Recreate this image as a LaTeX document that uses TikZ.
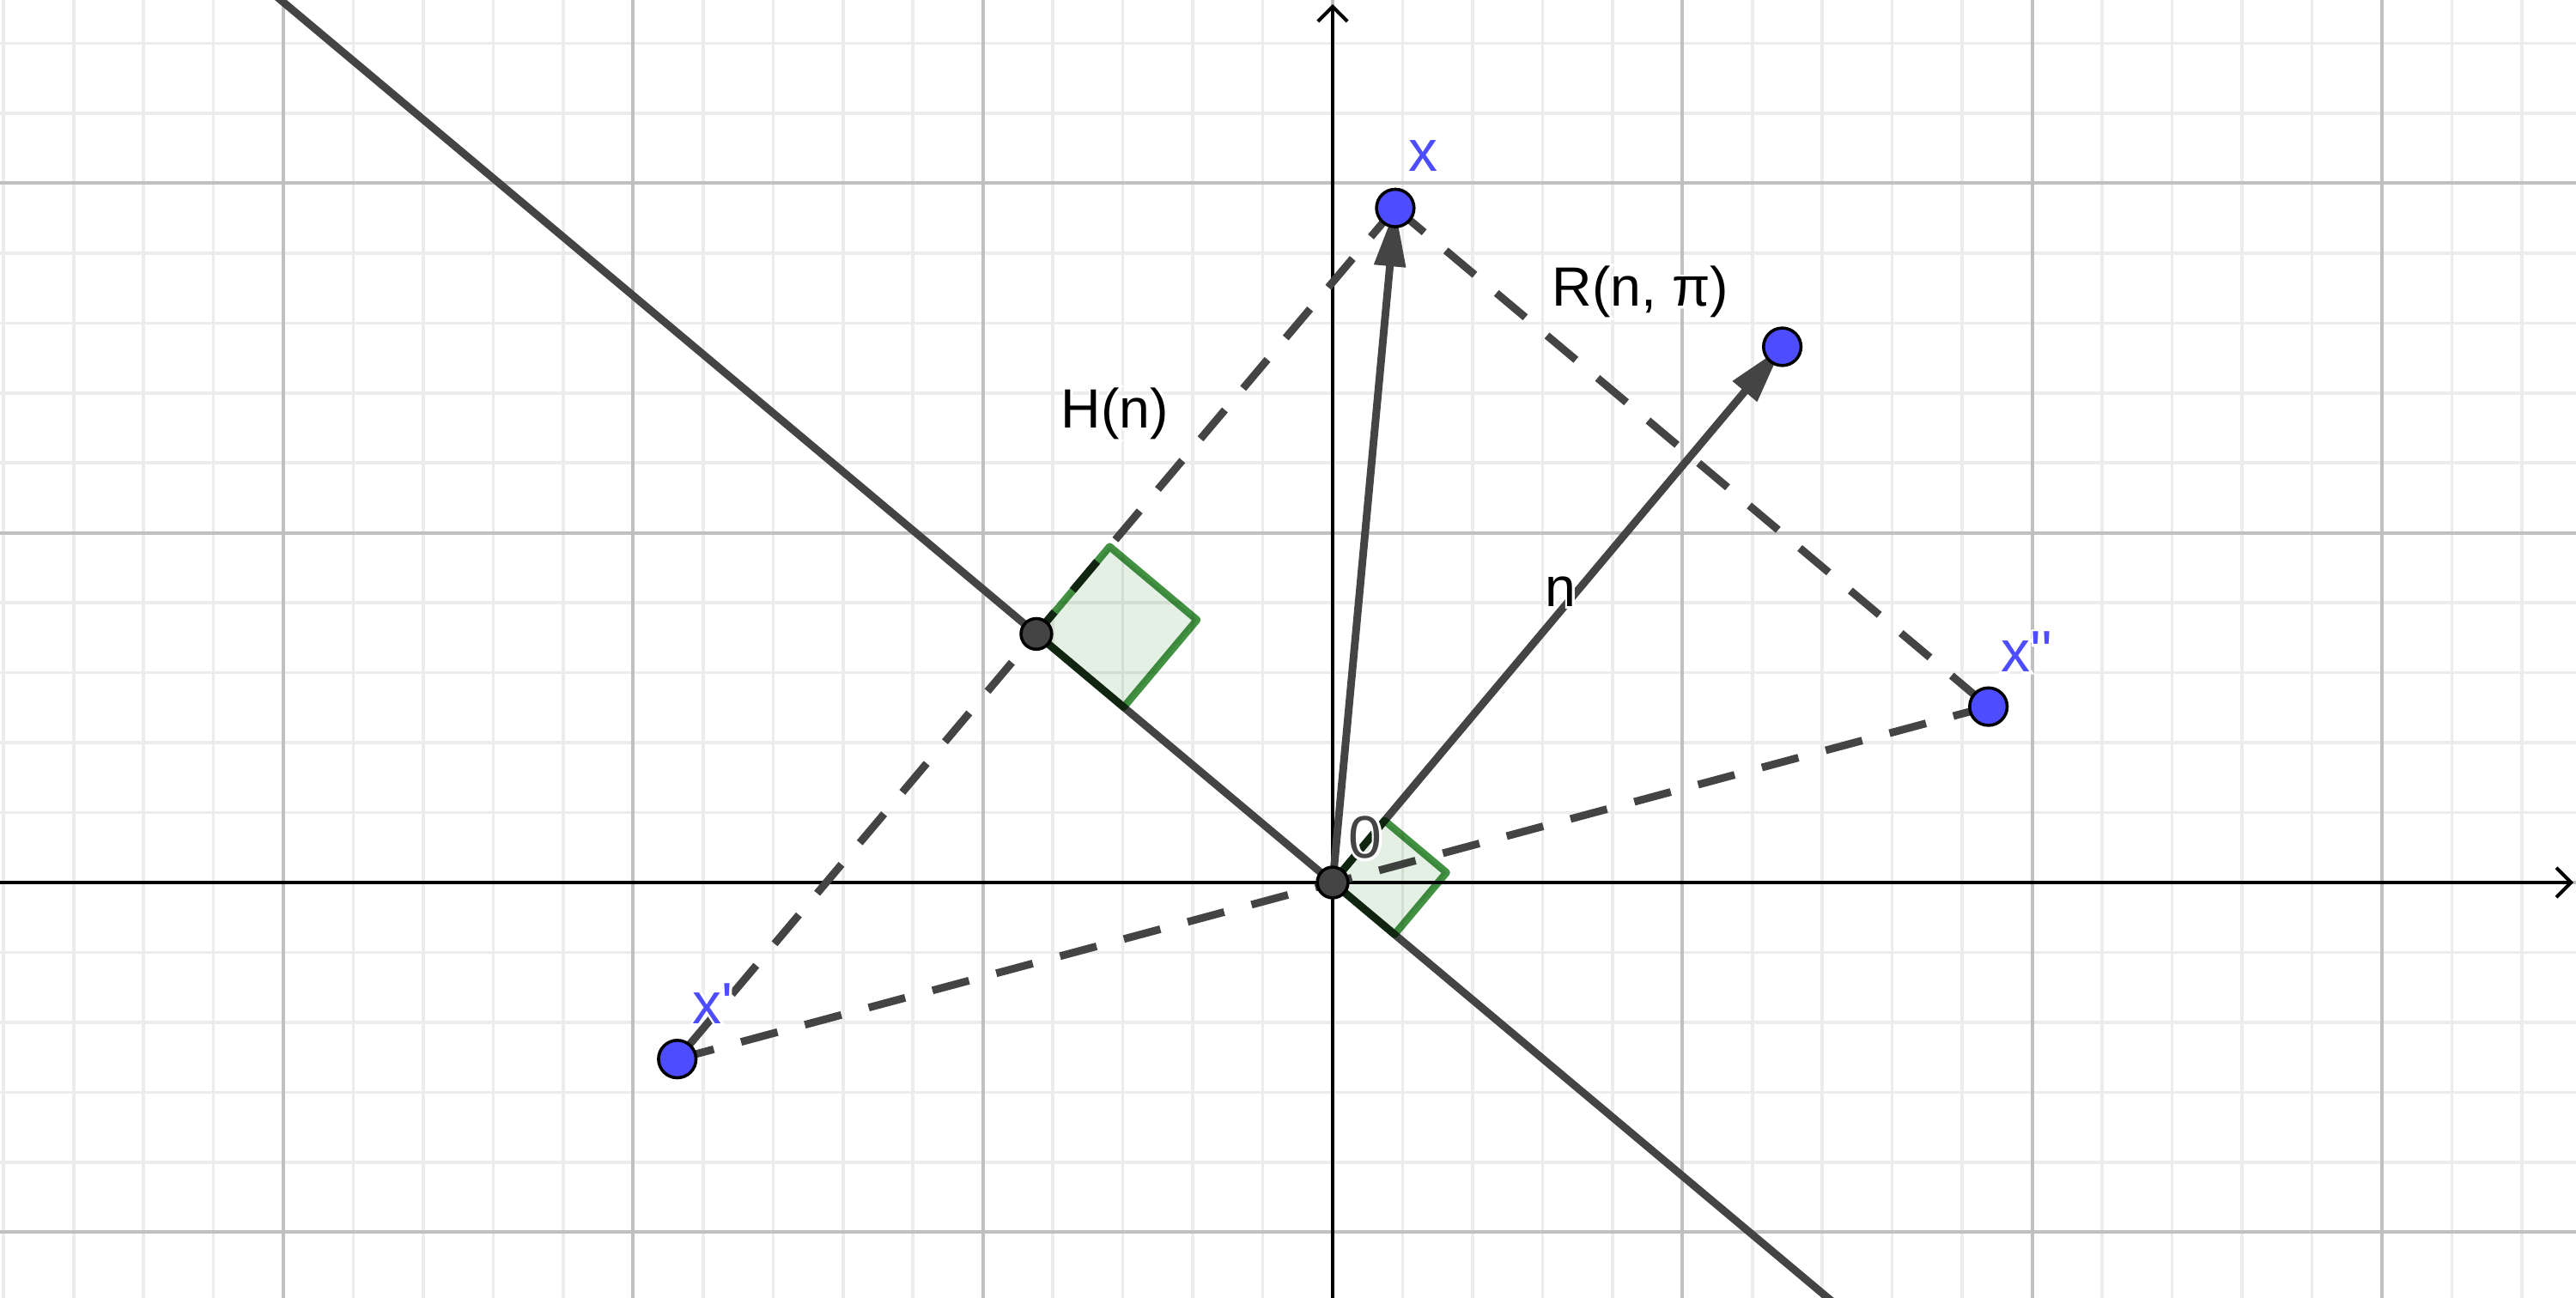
\documentclass[tikz,border=0pt]{standalone}
\usepackage{fontspec}
\setmainfont{Liberation Sans}[Ligatures=TeXOff]
\newfontfamily\halofont{Liberation Sans}[Ligatures=TeXOff,FakeBold=8]
\usetikzlibrary{arrows.meta}
\definecolor{ggline}{RGB}{68,68,68}
\definecolor{ggblue}{RGB}{77,77,255}
\definecolor{ggmajor}{RGB}{192,192,192}
\definecolor{ggminor}{RGB}{236,236,236}
\definecolor{gggreen}{RGB}{67,145,67}
\definecolor{ggfill}{RGB}{229,240,229}
\newcommand\halotext[1]{\makebox[0pt][l]{\color{white}\halofont #1}#1}
\begin{document}
\begin{tikzpicture}[x=4cm,y=4cm,
  minorgrid/.style={ggminor, line width=1pt},
  majorgrid/.style={ggmajor, line width=1.1pt},
  axisline/.style={black, line width=1.15pt, -{Straight Barb[length=4.8pt,width=9.6pt]}},
  solidline/.style={ggline, line width=2.5pt},
  dashline/.style={ggline, line width=2.5pt, dash pattern=on 12.3pt off 9.2pt},
  vecline/.style={ggline, line width=2.5pt, -{Triangle[length=19pt,width=9.8pt]}},
  marker/.style={draw=gggreen, fill=ggfill, line width=2.4pt, line join=round},
  bluept/.style={circle, draw=black, fill=ggblue, line width=1pt, minimum size=12.2pt, inner sep=0pt},
  graypt/.style={circle, draw=black, fill=ggline, line width=1pt, minimum size=10pt, inner sep=0pt},
  lab/.style={anchor=base west, inner sep=0pt, text=black, font=\fontsize{18pt}{20pt}\selectfont},
  bluelab/.style={lab, text=ggblue, font=\fontsize{19pt}{21pt}\selectfont}
]
\useasboundingbox (-3.8105,-1.1883) rectangle (3.5551,2.5239);
\clip (-3.8105,-1.1883) rectangle (3.5551,2.5239);
% grid
\draw[minorgrid, step=0.2] (-4,-1.4) grid (3.8,2.8);
\draw[majorgrid, step=1] (-4,-1.4) grid (3.8,2.8);
% axes
\coordinate (AxL) at (-3.8105,0);
\coordinate (AxR) at (3.548,0);
\coordinate (AyB) at (0,-1.1883);
\coordinate (AyT) at (0,2.512);
\draw[axisline] (AxL) -- (AxR);
\draw[axisline] (AyB) -- (AyT);
% points (positions)
\coordinate (O) at (0,0);
\coordinate (X) at (0.179,1.929);
\coordinate (N) at (1.2856,1.5321);
\coordinate (F) at (140:1.106);
\coordinate (Xp) at (-1.874,-0.505);
\coordinate (Xpp) at (1.875,0.503);
\coordinate (L1) at (140:5.2);
\coordinate (L2) at (-40:2.6);
% plane line
\draw[solidline] (L1) -- (L2);
% dashed segments
\draw[dashline] (X) -- (Xp);
\draw[dashline] (X) -- (Xpp);
\draw[dashline] (Xp) -- (Xpp);
% vectors
\draw[vecline] (O) -- (X);
\draw[vecline] (O) -- (N);
% right angle markers
\begin{scope}[blend mode=multiply]
\draw[marker] (O) -- ++(50:0.231) -- ++(-40:0.231) -- ++(230:0.231) -- cycle;
\draw[marker] (F) -- ++(50:0.326) -- ++(-40:0.326) -- ++(230:0.326) -- cycle;
\end{scope}
% point marks
\node[graypt] (Fpt) at (F) {};
\node[graypt] (Opt) at (O) {};
\node[bluept] (Xpt) at (X) {};
\node[bluept] (Npt) at (N) {};
\node[bluept] (Xppt) at (Xp) {};
\node[bluept] (Xpppt) at (Xpp) {};
% labels
\node[bluelab] (lx) at (0.216,2.033) {\halotext{x}};
\node[bluelab] (lxp) at (-1.832,-0.403) {\halotext{x'}};
\node[bluelab] (lxpp) at (1.910,0.602) {\halotext{x''}};
\node[lab] (lH) at (-0.778,1.301) {\halotext{H(n)}};
\node[lab] (lR) at (0.626,1.648) {\halotext{R(n, π)}};
\node[lab] (ln) at (0.606,0.789) {\halotext{n}};
\node[lab, text=ggline, font=\fontsize{19.5pt}{21pt}\selectfont] (l0) at (0.044,0.069) {\halotext{0}};
\end{tikzpicture}
\end{document}
